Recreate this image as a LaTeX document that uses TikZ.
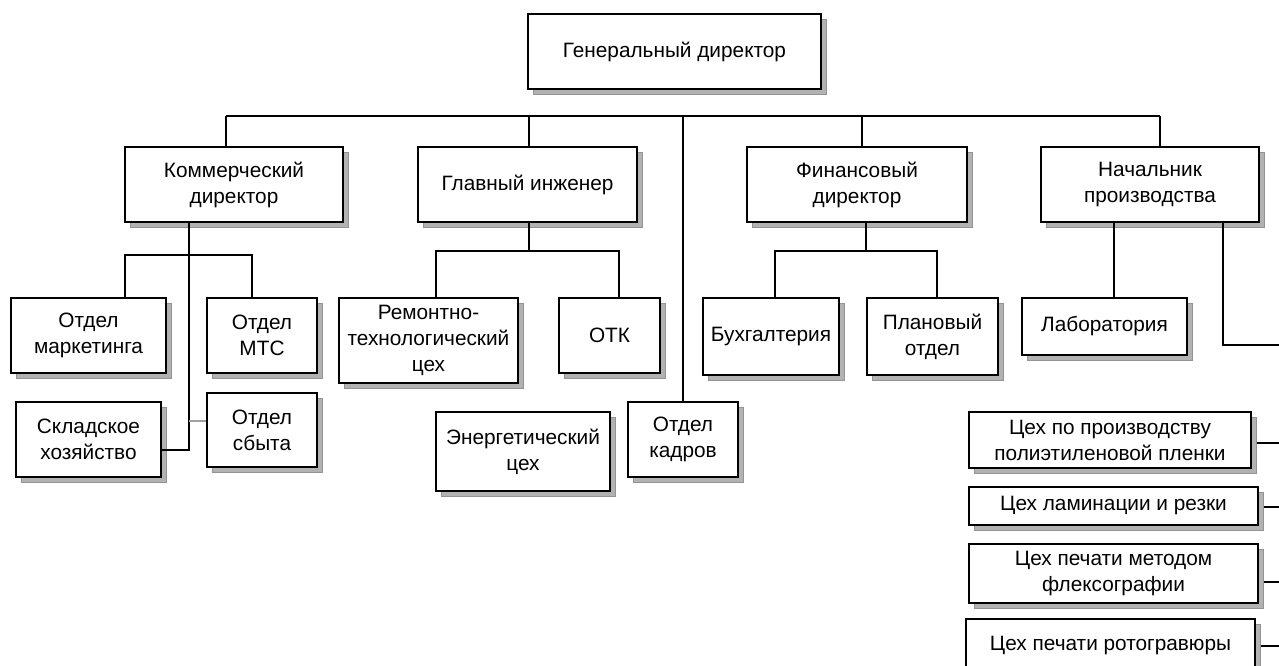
\documentclass[tikz,border=0pt]{standalone}
\usepackage{fontspec}
\setmainfont{Liberation Sans}
\usepackage{tikz}
\usetikzlibrary{calc}
\usetikzlibrary{shadows, positioning}
\tikzset{unit/.style={draw, fill=white, line width=1pt, align=center, inner sep=1pt,
    font=\fontsize{15.6}{19.5}\selectfont,
    general shadow={shadow xshift=4pt, shadow yshift=-4pt, fill=gray!60, draw=gray!85, line width=0.4pt}},
  link/.style={line width=1.2pt},
  weaklink/.style={line width=0.8pt, gray!75}}

\begin{document}
\begin{tikzpicture} [x=0.75pt, y=-0.75pt]
        \useasboundingbox (0,0) rectangle (1279,666);
        \clip (0,0) rectangle (1279,666);
        \node [unit, minimum width=219.75pt, minimum height=56.25pt] (gd) at (674.5,51.5) {Генеральный директор};
        \node [unit, minimum width=163.5pt, minimum height=56.25pt] (kom) at (234,184.5) {Коммерческий\\директор};
        \node [unit, minimum width=164.25pt, minimum height=56.25pt] (glav) at (527.5,184.5) {Главный инженер};
        \node [unit, minimum width=165pt, minimum height=56.25pt] (fin) at (857,184.5) {Финансовый\\директор};
        \node [unit, minimum width=163.5pt, minimum height=56.25pt] (nach) at (1150,184.5) {Начальник\\производства};
        \node [unit, minimum width=116.25pt, minimum height=56.25pt] (mark) at (88.5,335.5) {Отдел\\маркетинга};
        \node [unit, minimum width=82.5pt, minimum height=56.25pt] (mts) at (262,335.5) {Отдел\\МТС};
        \node [unit, minimum width=108.75pt, minimum height=56.25pt] (sklad) at (88.5,439.5) {Складское\\хозяйство};
        \node [unit, minimum width=82.5pt, minimum height=55.5pt] (sbyt) at (262,430) {Отдел\\сбыта};
        \node [unit, minimum width=134.25pt, minimum height=63.75pt] (remont) at (428.5,340.5) {Ремонтно-\\технологический\\цех};
        \node [unit, minimum width=75.75pt, minimum height=56.25pt] (otk) at (609.5,335.5) {ОТК};
        \node [unit, minimum width=130.5pt, minimum height=59.25pt] (energ) at (523,451.5) {Энергетический\\цех};
        \node [unit, minimum width=82.5pt, minimum height=56.25pt] (kadr) at (683,439.5) {Отдел\\кадров};
        \node [unit, minimum width=102pt, minimum height=57.75pt] (buh) at (771,336.5) {Бухгалтерия};
        \node [unit, minimum width=98.25pt, minimum height=57.75pt] (plan) at (932.5,336.5) {Плановый\\отдел};
        \node [unit, minimum width=123.75pt, minimum height=42.75pt] (lab) at (1104.5,326.5) {Лаборатория};
        \node [unit, minimum width=211.5pt, minimum height=42pt] (plen) at (1110,440) {Цех по производству\\полиэтиленовой пленки};
        \node [unit, minimum width=216.75pt, minimum height=28.5pt] (lamin) at (1113.5,506) {Цех ламинации и резки};
        \node [unit, minimum width=216.75pt, minimum height=44.25pt] (flex) at (1113.5,573.5) {Цех печати методом\\флексографии};
        \node [unit, minimum width=216.75pt, minimum height=40.5pt] (roto) at (1110.5,646) {Цех печати ротогравюры};

        \coordinate (busL) at (226,116);
        \coordinate (busR) at (1160,116);
        \coordinate (kj) at (189,255);
        \coordinate (gj) at (529,251);
        \coordinate (fj) at (866,251);
        \coordinate (nj) at (1223,345);
        \coordinate (edge) at (1279,345);
        \coordinate (rail) at (1279,0);

        \draw [link] (busL) -- (busR);
        \draw [link] (kom.north -| busL) -- (busL);
        \draw [link] (glav.north -| gj) -- (gj |- busL);
        \draw [link] (kadr.north) -- (kadr.north |- busL);
        \draw [link] ([xshift=3.75pt]fin.north) -- ([xshift=3.75pt]fin.north |- busL);
        \draw [link] (nach.north -| busR) -- (busR);

        \draw [link] (kom.south -| kj) |- ([yshift=-7.9pt]sklad.east);
        \draw [link] ([xshift=27.4pt]mark.north) |- (kj) -| ([xshift=-7.5pt]mts.north);
        \draw [weaklink] ([yshift=6.75pt]sbyt.west) -- ([yshift=6.75pt]sbyt.west -| kj);

        \draw [link] (glav.south -| gj) -- (gj);
        \draw [link] ([xshift=5.6pt]remont.north) |- (gj) -| ([xshift=7.1pt]otk.north);

        \draw [link] (fin.south -| fj) -- (fj);
        \draw [link] ([xshift=3pt]buh.north) |- (fj) -| ([xshift=3.4pt]plan.north);

        \draw [link] ([xshift=7.1pt]lab.north) -- ([xshift=7.1pt]lab.north |- nach.south);
        \draw [link] (nach.south -| nj) -- (nj) -- (edge);

        \draw [link] ([xshift=4pt,yshift=-2.25pt]plen.east) -- ([yshift=-2.25pt]plen.east -| rail);
        \draw [link] ([xshift=4pt,yshift=-0.75pt]lamin.east) -- ([yshift=-0.75pt]lamin.east -| rail);
        \draw [link] ([xshift=4pt,yshift=-6.4pt]flex.east) -- ([yshift=-6.4pt]flex.east -| rail);
        \draw [link] ([xshift=4pt]roto.east) -- (roto.east -| rail);
      \end{tikzpicture}
\end{document}
